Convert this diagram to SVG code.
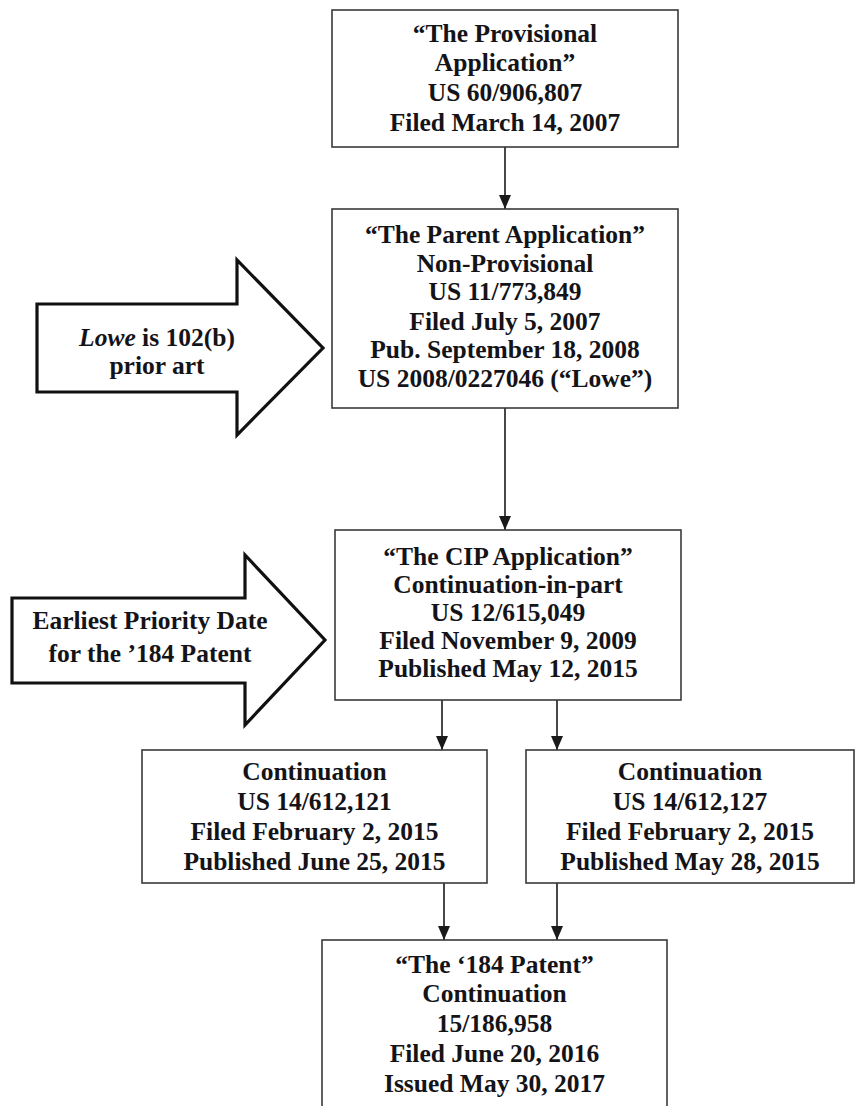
<svg xmlns="http://www.w3.org/2000/svg" width="859" height="1106" viewBox="0 0 859 1106">
<defs>
<style>
.box{fill:#fff;stroke:#3a3a3a;stroke-width:1.6}
.big{fill:#fff;stroke:#111;stroke-width:3.2;stroke-linejoin:miter}
.t{font-family:"Liberation Serif","Times New Roman",serif;font-weight:bold;font-size:25.5px;fill:#141418;text-anchor:middle}
.c{stroke:#1a1a1a;stroke-width:1.6;fill:none}
</style>
<marker id="ah" markerWidth="14" markerHeight="12" refX="14" refY="6" orient="auto" markerUnits="userSpaceOnUse" viewBox="0 0 14 12">
<path d="M0,0 L14,6 L0,12 Z" fill="#1a1a1a"/>
</marker>
</defs>
<rect width="859" height="1106" fill="#fff"/>

<g id="connectors">
<line class="c" x1="505" y1="147" x2="505" y2="209" marker-end="url(#ah)"/>
<line class="c" x1="505" y1="408" x2="505" y2="530" marker-end="url(#ah)"/>
<line class="c" x1="442" y1="700" x2="442" y2="750" marker-end="url(#ah)"/>
<line class="c" x1="557" y1="700" x2="557" y2="750" marker-end="url(#ah)"/>
<line class="c" x1="444" y1="883" x2="444" y2="940" marker-end="url(#ah)"/>
<line class="c" x1="557" y1="883" x2="557" y2="940" marker-end="url(#ah)"/>
</g>

<g id="provisional">
<rect class="box" x="332" y="10" width="346" height="137"/>
<text class="t" x="505" y="42">“The Provisional</text>
<text class="t" x="505" y="71">Application”</text>
<text class="t" x="505" y="101">US 60/906,807</text>
<text class="t" x="505" y="131">Filed March 14, 2007</text>
</g>

<g id="parent">
<rect class="box" x="332" y="209" width="346" height="199"/>
<text class="t" x="505" y="243">“The Parent Application”</text>
<text class="t" x="505" y="272">Non-Provisional</text>
<text class="t" x="505" y="300">US 11/773,849</text>
<text class="t" x="505" y="330">Filed July 5, 2007</text>
<text class="t" x="505" y="358">Pub. September 18, 2008</text>
<text class="t" x="505" y="387">US 2008/0227046 (“Lowe”)</text>
</g>

<g id="lowe-arrow">
<polygon class="big" points="37,304 237,304 237,260 323,348 237,435 237,392 37,392"/>
<text class="t" x="157" y="346"><tspan font-style="italic">Lowe</tspan> is 102(b)</text>
<text class="t" x="157" y="374">prior art</text>
</g>

<g id="cip">
<rect class="box" x="335" y="530" width="346" height="170"/>
<text class="t" x="508" y="565">“The CIP Application”</text>
<text class="t" x="508" y="593">Continuation-in-part</text>
<text class="t" x="508" y="621">US 12/615,049</text>
<text class="t" x="508" y="649">Filed November 9, 2009</text>
<text class="t" x="508" y="677">Published May 12, 2015</text>
</g>

<g id="priority-arrow">
<polygon class="big" points="12,598 245,598 245,555 325,640 245,725 245,683 12,683"/>
<text class="t" x="150" y="629">Earliest Priority Date</text>
<text class="t" x="150" y="662">for the ’184 Patent</text>
</g>

<g id="cont-left">
<rect class="box" x="142" y="750" width="345" height="133"/>
<text class="t" x="314.5" y="780">Continuation</text>
<text class="t" x="314.5" y="810">US 14/612,121</text>
<text class="t" x="314.5" y="840">Filed February 2, 2015</text>
<text class="t" x="314.5" y="870">Published June 25, 2015</text>
</g>

<g id="cont-right">
<rect class="box" x="526" y="750" width="328" height="133"/>
<text class="t" x="690" y="780">Continuation</text>
<text class="t" x="690" y="810">US 14/612,127</text>
<text class="t" x="690" y="840">Filed February 2, 2015</text>
<text class="t" x="690" y="870">Published May 28, 2015</text>
</g>

<g id="patent-184">
<rect class="box" x="322" y="940" width="345" height="180"/>
<text class="t" x="494.5" y="973">“The ‘184 Patent”</text>
<text class="t" x="494.5" y="1002">Continuation</text>
<text class="t" x="494.5" y="1032">15/186,958</text>
<text class="t" x="494.5" y="1062">Filed June 20, 2016</text>
<text class="t" x="494.5" y="1092">Issued May 30, 2017</text>
</g>
</svg>
